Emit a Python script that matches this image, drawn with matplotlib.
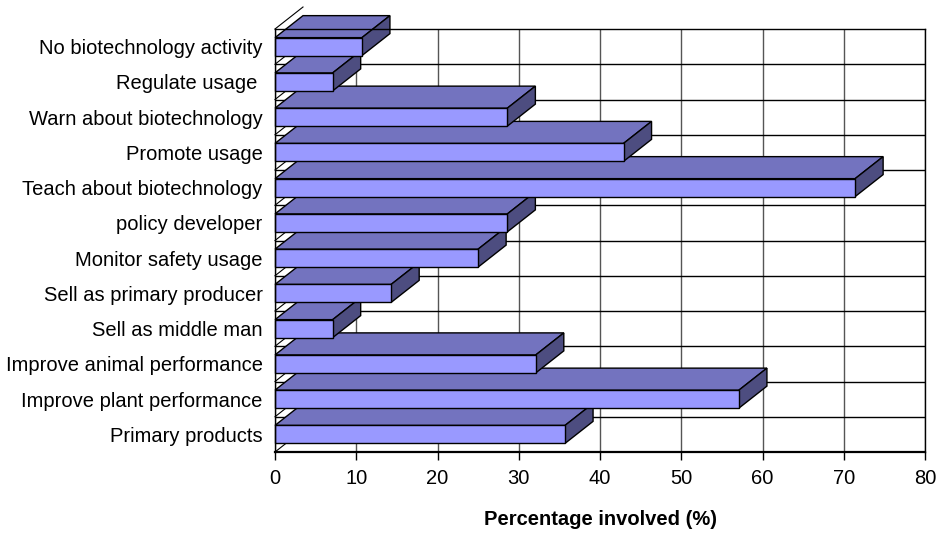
import matplotlib
matplotlib.use('Agg')
import matplotlib.pyplot as plt
from matplotlib.patches import Polygon, Rectangle

plt.rcParams['font.family'] = ['Liberation Sans', 'DejaVu Sans']

# categories listed bottom to top
categories = ['Primary products', 'Improve plant performance', 'Improve animal performance',
              'Sell as middle man', 'Sell as primary producer', 'Monitor safety usage',
              'policy developer', 'Teach about biotechnology', 'Promote usage',
              'Warn about biotechnology', 'Regulate usage ', 'No biotechnology activity']
percent = [35.7, 57.1, 32.1, 7.1, 14.3, 25.0, 28.6, 71.4, 42.9, 28.6, 7.1, 10.7]
xticks = [0, 10, 20, 30, 40, 50, 60, 70, 80]

front_col = '#9999ff'
top_col = '#7373bf'
side_col = '#4d4d80'

fig = plt.figure(figsize=(9.39, 5.33), dpi=100)
ax = fig.add_axes([275/939, 1 - 452/533, 650/939, 423/533])
ax.set_xlim(0, 80)
ax.set_ylim(-0.5, len(categories) - 0.5)

# depth offset of the 3d effect, in data units (~28px right, ~22px up)
dx = 28 / 650 * 80
dy = 22 / 423 * len(categories)
h = 0.51

# side wall lines at each category boundary
for k in range(len(categories) + 1):
    b = k - 0.5
    ax.plot([0, dx], [b, b + dy], color='black', lw=0.8, zorder=0.8, clip_on=False)

for i, v in enumerate(percent):
    yb, yt = i - h / 2, i + h / 2
    top = Polygon([(0, yt), (dx, yt + dy), (v + dx, yt + dy), (v, yt)],
                  closed=True, facecolor=top_col, edgecolor='black', lw=1.0, clip_on=False, zorder=2)
    side = Polygon([(v, yb), (v, yt), (v + dx, yt + dy), (v + dx, yb + dy)],
                   closed=True, facecolor=side_col, edgecolor='black', lw=1.0, clip_on=False, zorder=2)
    front = Rectangle((0, yb), v, h, facecolor=front_col, edgecolor='black', lw=1.0,
                      clip_on=False, zorder=2)
    ax.add_patch(top)
    ax.add_patch(side)
    ax.add_patch(front)

ax.set_yticks(range(len(categories)))
ax.set_yticklabels(categories, fontsize=14.5)
ax.set_yticks([k - 0.5 for k in range(1, len(categories))], minor=True)
ax.tick_params(axis='y', which='both', length=0, pad=9)

ax.set_xticks(xticks)
ax.set_xticklabels([str(t) for t in xticks], fontsize=14.5)
ax.tick_params(axis='x', direction='out', length=6, width=1.0, pad=6)

ax.set_axisbelow(True)
ax.grid(True, axis='x', which='major', color='#555555', lw=1.0)
ax.grid(True, axis='y', which='minor', color='black', lw=1.0)

for s in ['top', 'right', 'left']:
    ax.spines[s].set_color('black')
    ax.spines[s].set_linewidth(1.0)
ax.spines['bottom'].set_linewidth(1.6)

ax.set_xlabel('Percentage involved (%)', fontsize=14.5, fontweight='bold', labelpad=16)

fig.savefig('out.png', dpi=100)
